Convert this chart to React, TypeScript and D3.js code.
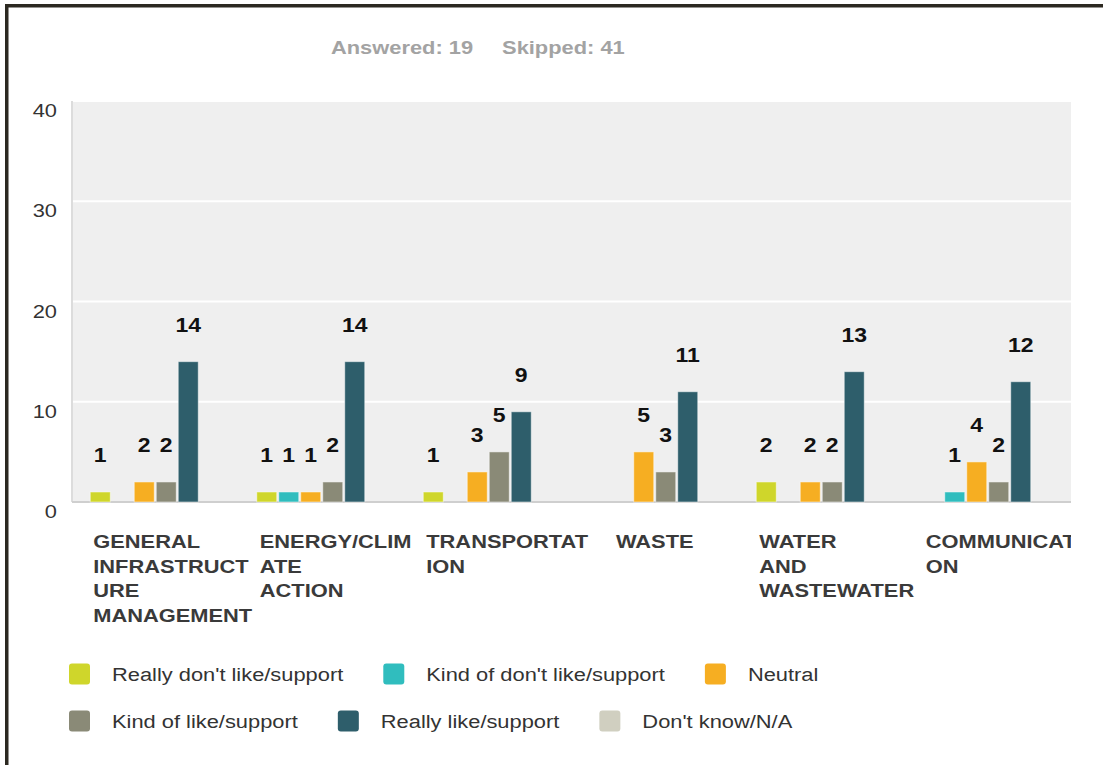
import React from "react";
import * as d3 from "d3";

const categories = [
  "GENERAL INFRASTRUCTURE MANAGEMENT",
  "ENERGY/CLIMATE ACTION",
  "TRANSPORTATION",
  "WASTE",
  "WATER AND WASTEWATER",
  "COMMUNICATION",
];
const categoryLines = [
  ["GENERAL", "INFRASTRUCT", "URE", "MANAGEMENT"],
  ["ENERGY/CLIM", "ATE", "ACTION"],
  ["TRANSPORTAT", "ION"],
  ["WASTE"],
  ["WATER", "AND", "WASTEWATER"],
  ["COMMUNICATI", "ON"],
];
const seriesNames = [
  "Really don't like/support",
  "Kind of don't like/support",
  "Neutral",
  "Kind of like/support",
  "Really like/support",
  "Don't know/N/A",
];
const seriesColors = ["#cfd62b", "#30bdbe", "#f6ae22", "#8a8a77", "#2e5e6b", "#d0cfc0"];
const reallyDont = [1, 1, 1, 0, 2, 0];
const kindDont = [0, 1, 0, 0, 0, 1];
const neutral = [2, 1, 3, 5, 2, 4];
const kindLike = [2, 2, 5, 3, 2, 2];
const reallyLike = [14, 14, 9, 11, 13, 12];
const dontKnow = [0, 0, 0, 0, 0, 0];
const seriesValues = [reallyDont, kindDont, neutral, kindLike, reallyLike, dontKnow];
const yTicks = [0, 10, 20, 30, 40];
const titleParts = ["Answered: 19", "Skipped: 41"];

const FONT = '"Liberation Sans", Arial, sans-serif';
const SX = 1.15;

let ctx: CanvasRenderingContext2D | null = null;
function measure(text: string, font: string) {
  if (!ctx) ctx = document.createElement("canvas").getContext("2d");
  if (!ctx) return text.length * 10;
  ctx.font = font;
  return ctx.measureText(text).width * SX;
}

function SText(props: any) {
  const { x, y, children, ...rest } = props;
  return (
    <text transform={`translate(${x},${y}) scale(${SX},1)`} {...rest}>
      {children}
    </text>
  );
}

export default function App() {
  const W = 1103, H = 765;
  const left = 72, right = 1071, top = 101, bottom = 502;
  const x0 = d3.scaleBand<string>().domain(categories).range([left, right]);
  const bw = x0.bandwidth();
  const pad = 18.25;
  const x1 = d3
    .scaleBand<string>()
    .domain(seriesNames)
    .range([pad, bw - pad])
    .paddingInner(0.09)
    .paddingOuter(0);
  const y = d3.scaleLinear().domain([0, 40]).range([bottom, top]);

  // legend layout
  const legendFont = `19px ${FONT}`;
  const rows = [seriesNames.slice(0, 3), seriesNames.slice(3, 6)];
  const rowY = [674, 721];

  const titleFont = `bold 19px ${FONT}`;
  const catFont = `bold 19px ${FONT}`;

  return (
    <div style={{ position: "absolute", left: 0, top: 0 }}>
      <svg width={W} height={H} style={{ display: "block", background: "#fff" }}>
        <defs>
          <clipPath id="chartClip">
            <rect x={0} y={0} width={right} height={H} />
          </clipPath>
        </defs>
        {/* frame */}
        <rect x={5} y={4} width={W - 5} height={3.5} fill="#2c2921" />
        <rect x={5} y={4} width={3.5} height={H - 4} fill="#2c2921" />

        {/* title */}
        {(() => {
          let tx = 331;
          return titleParts.map((t) => {
            const el = (
              <SText key={t} x={tx} y={54} fontFamily={FONT} fontWeight="bold" fontSize={19} fill="#a3a3a3">
                {t}
              </SText>
            );
            tx += measure(t, titleFont) + 29;
            return el;
          });
        })()}

        {/* plot background */}
        <rect x={left} y={top} width={right - left} height={bottom - top} fill="#efefef" />
        {yTicks.filter((t) => t > 0).map((t) => (
          <line key={t} x1={left} x2={right} y1={y(t)} y2={y(t)} stroke="#ffffff" strokeWidth={2} />
        ))}
        <line x1={left} x2={left} y1={top} y2={bottom} stroke="#dcdcdc" strokeWidth={2} />
        <line x1={left} x2={right} y1={bottom} y2={bottom} stroke="#cfcfcf" strokeWidth={2} />

        {/* y tick labels */}
        {yTicks.map((t) => (
          <SText key={t} x={57} y={y(t) + 16} textAnchor="end" fontFamily={FONT} fontSize={19} fill="#333">
            {t}
          </SText>
        ))}

        {/* bars */}
        {categories.map((c, ci) => (
          <g key={c} transform={`translate(${x0(c)},0)`}>
            {seriesNames.map((s, si) => {
              const v = seriesValues[si][ci];
              if (!v) return null;
              const bx = x1(s)!;
              return (
                <g key={s}>
                  <rect
                    x={bx}
                    y={y(v)}
                    width={x1.bandwidth()}
                    height={bottom - y(v)}
                    fill={seriesColors[si]}
                    stroke="#ffffff"
                    strokeOpacity={0.5}
                    strokeWidth={1}
                  />
                  <SText
                    x={bx + x1.bandwidth() / 2}
                    y={y(v) - 30}
                    textAnchor="middle"
                    fontFamily={FONT}
                    fontWeight="bold"
                    fontSize={20}
                    fill="#111"
                  >
                    {v}
                  </SText>
                </g>
              );
            })}
          </g>
        ))}

        {/* category labels */}
        <g clipPath="url(#chartClip)">
          {categories.map((c, ci) => {
            const lines = categoryLines[ci];
            const center = x0(c)! + bw / 2;
            const sx = lines.length === 1 ? center - measure(lines[0], catFont) / 2 : center - 62;
            return lines.map((ln, li) => (
              <SText
                key={c + li}
                x={sx}
                y={548 + li * 24.7}
                fontFamily={FONT}
                fontWeight="bold"
                fontSize={19}
                fill="#3a3a3a"
              >
                {ln}
              </SText>
            ));
          })}
        </g>

        {/* legend */}
        {rows.map((row, ri) => {
          let lx = 69;
          return row.map((name) => {
            const si = seriesNames.indexOf(name);
            const cy = rowY[ri];
            const el = (
              <g key={name}>
                <rect x={lx} y={cy - 10.5} width={21} height={21} rx={3} fill={seriesColors[si]} />
                <SText x={lx + 43} y={cy + 7} fontFamily={FONT} fontSize={19} fill="#333">
                  {name}
                </SText>
              </g>
            );
            lx += 43 + measure(name, legendFont) + 40;
            return el;
          });
        })}
      </svg>
    </div>
  );
}
